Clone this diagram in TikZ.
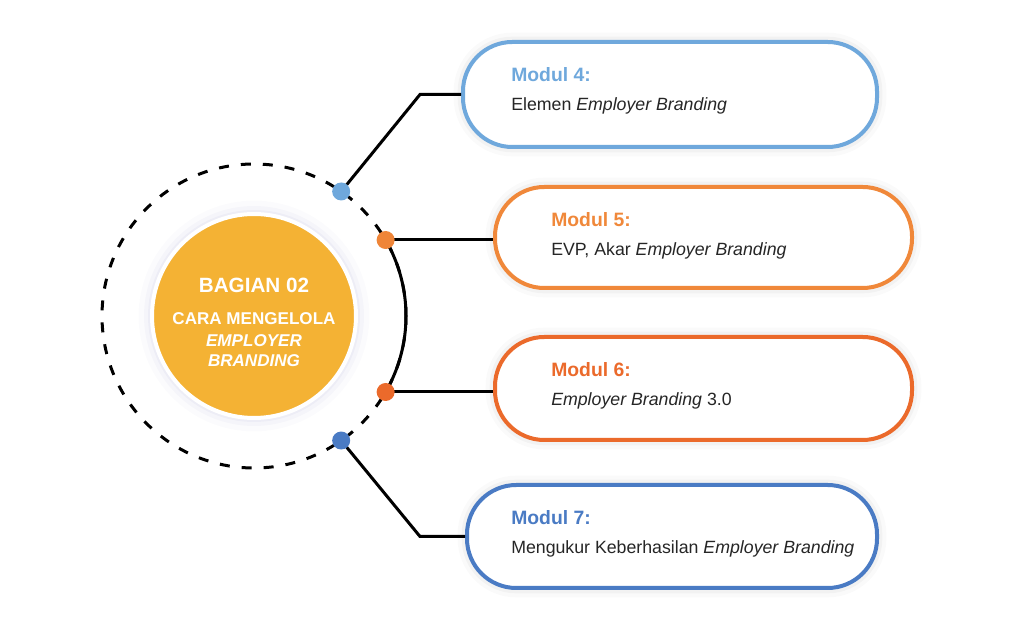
\documentclass[tikz,border=0pt]{standalone}
\usepackage{fontspec}
\setmainfont{Liberation Sans}
\usepackage{tikz}
\usetikzlibrary{calc, positioning}

\definecolor{skyblue}{HTML}{6FA8DC}
\definecolor{tangerine}{HTML}{F0883A}
\definecolor{rust}{HTML}{EB6A2B}
\definecolor{steelblue}{HTML}{4A7BC4}
\definecolor{saffron}{HTML}{F4B234}

\begin{document}
\begin{tikzpicture}[
  x=0.75pt, y=0.75pt,
  core/.style={circle, fill=saffron, draw=white, line width=3pt,
    minimum size=153pt, inner sep=0pt,
    preaction={draw=black!50!blue, draw opacity=0.015, line width=20pt},
    preaction={draw=black!50!blue, draw opacity=0.025, line width=12pt},
    preaction={draw=black!50!blue, draw opacity=0.03, line width=6pt}},
  pill/.style={draw=#1, fill=white, line width=3pt, rounded corners=37pt,
    inner sep=0pt,
    preaction={draw=black, draw opacity=0.02, line width=14pt},
    preaction={draw=black, draw opacity=0.03, line width=8pt}},
  dot/.style={circle, fill=#1, minimum size=13.5pt, inner sep=0pt},
  title/.style={anchor=base west, text=#1, inner sep=0pt,
    font=\fontsize{14.5}{17}\selectfont\bfseries},
  body/.style={anchor=base west, inner sep=0pt,
    font=\fontsize{13.3}{16}\selectfont, text=black!85},
  heading/.style={text=white, inner sep=0pt, font=\bfseries},
  ring/.style={line width=2.25pt, black},
  link/.style={line width=2.25pt, black, line join=miter}
]

\useasboundingbox[fill=white] (0,0) rectangle (1024,635);

% Outer ring
\coordinate (hub) at (254,319);
\draw[ring, dash pattern=on 7.5pt off 9pt] (hub) circle[radius=152];

% Central circle
\node[core] (core) at (hub) {};
\node[heading, anchor=base, font=\fontsize{15.5}{18}\selectfont\bfseries] (part) at (254,342) {BAGIAN 02};
\node[heading, anchor=base, font=\fontsize{12.8}{15}\selectfont\bfseries] (topic) at (254,310) {CARA MENGELOLA};
\node[heading, anchor=base, font=\fontsize{12.8}{15}\selectfont\bfseries\itshape] (topicb) at (254,288) {EMPLOYER};
\node[heading, anchor=base, font=\fontsize{12.8}{15}\selectfont\bfseries\itshape] (topicc) at (254,268) {BRANDING};

% Module boxes
\node[pill=skyblue, minimum width=310.5pt, minimum height=78.75pt] (m4) at (670,540.5) {};
\node[pill=tangerine, minimum width=312.75pt, minimum height=75.75pt] (m5) at (703.5,397.5) {};
\node[pill=rust, minimum width=312.75pt, minimum height=77.25pt] (m6) at (703.5,246.5) {};
\node[pill=steelblue, minimum width=307.5pt, minimum height=77.25pt] (m7) at (672,98.5) {};

\node[title=skyblue] (t4) at (511,553) {Modul 4:};
\node[body] (b4) at (511,524) {Elemen \textit{Employer Branding}};
\node[title=tangerine] (t5) at (551,408) {Modul 5:};
\node[body] (b5) at (551,379) {EVP, Akar \textit{Employer Branding}};
\node[title=rust] (t6) at (551,258) {Modul 6:};
\node[body] (b6) at (551,229) {\textit{Employer Branding} 3.0};
\node[title=steelblue] (t7) at (511,110) {Modul 7:};
\node[body] (b7) at (511,81) {Mengukur Keberhasilan \textit{Employer Branding}};

% Connectors
\coordinate (k4) at (420,540.5);
\coordinate (k7) at (420,98.5);
\draw[ring] ($(hub)+(-30:152)$) arc[start angle=-30, end angle=30, radius=152];
\draw[link] ($(hub)+(55:152)$) -- (k4) -- (m4.west);
\draw[link] ($(hub)+(30:152)$) -- (m5.west |- {$(hub)+(30:152)$});
\draw[link] ($(hub)+(-30:152)$) -- (m6.west |- {$(hub)+(-30:152)$});
\draw[link] ($(hub)+(-55:152)$) -- (k7) -- (m7.west);

% Dots on the ring
\node[dot=skyblue] (d4) at ($(hub)+(55:152)$) {};
\node[dot=tangerine!90!rust] (d5) at ($(hub)+(30:152)$) {};
\node[dot=rust] (d6) at ($(hub)+(-30:152)$) {};
\node[dot=steelblue] (d7) at ($(hub)+(-55:152)$) {};

\end{tikzpicture}
\end{document}
